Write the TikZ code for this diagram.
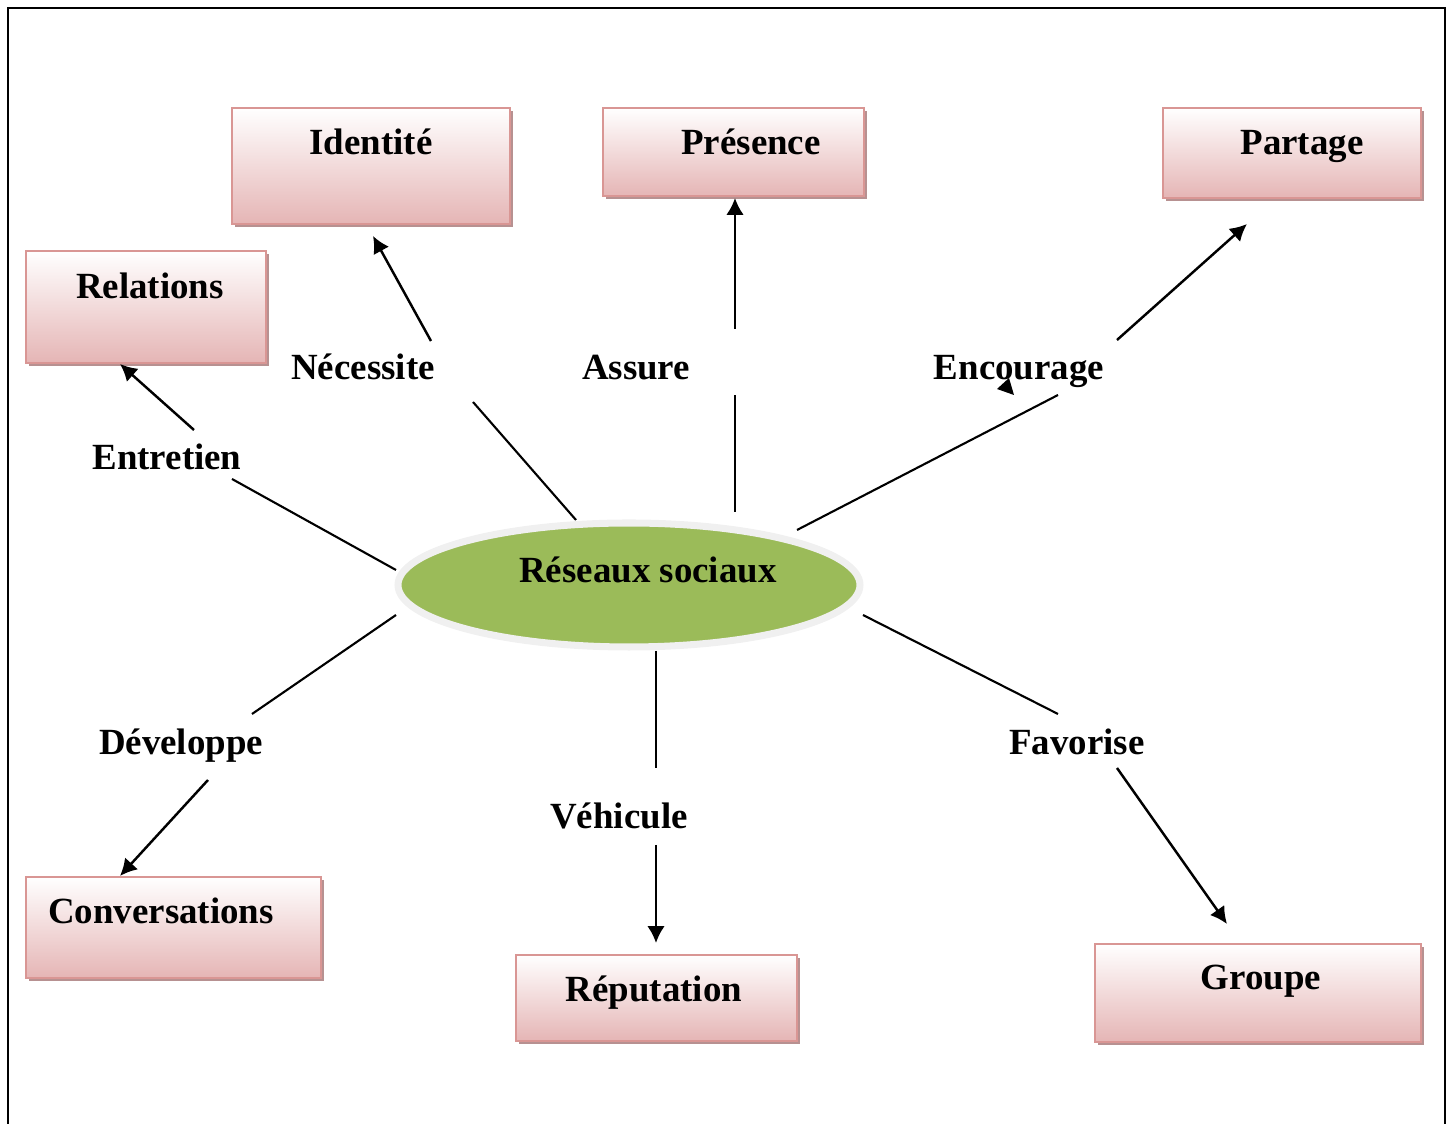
\documentclass[tikz,border=0pt]{standalone}
\usepackage{fontspec}
\setmainfont{Liberation Serif}
\usetikzlibrary{shapes.geometric,shadows,arrows.meta}

\definecolor{boxline}{RGB}{217,150,148}
\definecolor{boxbot}{RGB}{229,181,181}
\definecolor{boxshadow}{RGB}{183,145,145}
\definecolor{hubgreen}{RGB}{155,187,89}
\definecolor{hubline}{RGB}{240,240,240}

\tikzset{
	box/.style={draw=boxline, line width=0.8pt, top color=white, bottom color=boxbot,
		general shadow={fill=boxshadow, shadow xshift=0.9pt, shadow yshift=-0.9pt}, inner sep=0pt},
	lbl/.style={font=\fontsize{10.5}{12}\selectfont\bfseries, anchor=base, inner sep=0pt},
	link/.style={line width=0.6pt},
	arr/.style={line width=0.7pt, -{Latex[length=4.8pt,width=5pt]}}
}

\begin{document}
\begin{tikzpicture}
	\useasboundingbox (0,0) rectangle (14.48,-11.24);
	%frame
	\draw[line width=0.8pt] (0.08,-11.3)--(0.08,-0.08)--(14.45,-0.08)--(14.45,-11.3);
	
	%boxes
	\node[box, minimum width=2.78cm, minimum height=1.16cm] (ident) at (3.71,-1.66)  {};
	\node[box, minimum width=2.61cm, minimum height=0.88cm] (pres)  at (7.335,-1.52) {};
	\node[box, minimum width=2.58cm, minimum height=0.90cm] (part)  at (12.92,-1.53) {};
	\node[box, minimum width=2.40cm, minimum height=1.12cm] (rel)   at (1.46,-3.07)  {};
	\node[box, minimum width=2.95cm, minimum height=1.01cm] (conv)  at (1.735,-9.275) {};
	\node[box, minimum width=2.81cm, minimum height=0.86cm] (rep)   at (6.565,-9.98) {};
	\node[box, minimum width=3.26cm, minimum height=0.98cm] (grp)   at (12.58,-9.93) {};
	
	%hub
	\node[ellipse, draw=hubline, line width=2pt, fill=hubgreen, inner sep=0pt,
		minimum width=4.62cm, minimum height=1.24cm] (hub) at (6.29,-5.85) {};
	
	%labels
	\node[lbl] (identT) at (3.71,-1.55)  {Identité};
	\node[lbl] (presT)  at (7.51,-1.55)  {Présence};
	\node[lbl] (partT)  at (13.02,-1.55) {Partage};
	\node[lbl] (relT)   at (1.50,-2.99)  {Relations};
	\node[lbl] (convT)  at (1.61,-9.24)  {Conversations};
	\node[lbl] (repT)   at (6.54,-10.02) {Réputation};
	\node[lbl] (grpT)   at (12.61,-9.90) {Groupe};
	\node[lbl] (hubT)   at (6.48,-5.83)  {Réseaux sociaux};
	%
	\node[lbl] (entT) at (1.67,-4.70) {Entretien};
	\node[lbl] (necT) at (3.63,-3.80) {Nécessite};
	\node[lbl] (assT) at (6.36,-3.80) {Assure};
	\node[lbl] (encT) at (10.19,-3.80) {Encourage};
	\node[lbl] (devT) at (1.81,-7.55) {Développe};
	\node[lbl] (vehT) at (6.19,-8.29) {Véhicule};
	\node[lbl] (favT) at (10.77,-7.55) {Favorise};
	
	%lines from the hub
	\coordinate (h1) at (3.96,-5.70);  \coordinate (e1) at (2.32,-4.79);
	\coordinate (h2) at (5.76,-5.20);  \coordinate (e2) at (4.73,-4.02);
	\coordinate (h3) at (7.35,-5.12);  \coordinate (e3) at (7.35,-3.95);
	\coordinate (h4) at (7.97,-5.30);  \coordinate (e4) at (10.58,-3.95);
	\coordinate (h5) at (3.96,-6.15);  \coordinate (e5) at (2.52,-7.14);
	\coordinate (h6) at (6.56,-6.51);  \coordinate (e6) at (6.56,-7.68);
	\coordinate (h7) at (8.63,-6.15);  \coordinate (e7) at (10.58,-7.14);
	\foreach \i in {1,...,7}
		\draw[link] (h\i)--(e\i);
	
	%arrows to the boxes
	\coordinate (s1) at (1.94,-4.30);  \coordinate (t1) at (1.20,-3.64);
	\coordinate (s2) at (4.31,-3.41);  \coordinate (t2) at (3.73,-2.36);
	\coordinate (s3) at (7.35,-3.29);  \coordinate (t3) at (7.35,-1.98);
	\coordinate (s4) at (11.17,-3.40); \coordinate (t4) at (12.47,-2.24);
	\coordinate (s5) at (2.08,-7.80);  \coordinate (t5) at (1.20,-8.76);
	\coordinate (s6) at (6.56,-8.45);  \coordinate (t6) at (6.56,-9.43);
	\coordinate (s7) at (11.17,-7.68); \coordinate (t7) at (12.27,-9.24);
	\foreach \i in {1,...,7}
		\draw[arr] (s\i)--(t\i);
	
	%stray tip
	\fill (9.97,-3.89)--(10.09,-3.78)--(10.14,-3.95)--cycle;
\end{tikzpicture}
\end{document}
